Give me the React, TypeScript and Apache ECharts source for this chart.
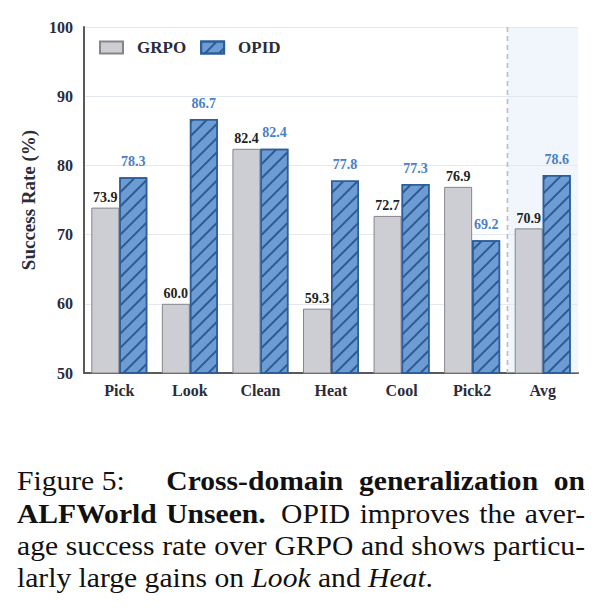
import React, { useEffect, useRef } from "react";
import * as echarts from "echarts";

const categories = ["Pick", "Look", "Clean", "Heat", "Cool", "Pick2", "Avg"];
const grpoValues = [73.9, 60.0, 82.4, 59.3, 72.7, 76.9, 70.9];
const opidValues = [78.3, 86.7, 82.4, 77.8, 77.3, 69.2, 78.6];
const seriesNames = ["GRPO", "OPID"];
const yMin = 50;
const yMax = 100;
const yInterval = 10;
const highlightCategory = "Avg";
const yAxisTitle = "Success Rate (%)";

type Tok = { t: string; s: "n" | "b" | "i"; gap?: number; join?: boolean };
const captionLines: { toks: Tok[]; justify: boolean }[] = [
  {
    justify: true,
    toks: [
      { t: "Figure 5:", s: "n" },
      { t: "Cross-domain", s: "b", gap: 26 },
      { t: "generalization", s: "b" },
      { t: "on", s: "b" },
    ],
  },
  {
    justify: true,
    toks: [
      { t: "ALFWorld", s: "b" },
      { t: "Unseen.", s: "b" },
      { t: "OPID", s: "n", gap: 6 },
      { t: "improves", s: "n" },
      { t: "the", s: "n" },
      { t: "aver-", s: "n" },
    ],
  },
  {
    justify: true,
    toks: [
      { t: "age", s: "n" },
      { t: "success", s: "n" },
      { t: "rate", s: "n" },
      { t: "over", s: "n" },
      { t: "GRPO", s: "n" },
      { t: "and", s: "n" },
      { t: "shows", s: "n" },
      { t: "particu-", s: "n" },
    ],
  },
  {
    justify: false,
    toks: [
      { t: "larly", s: "n" },
      { t: "large", s: "n" },
      { t: "gains", s: "n" },
      { t: "on", s: "n" },
      { t: "Look", s: "i" },
      { t: "and", s: "n" },
      { t: "Heat", s: "i" },
      { t: ".", s: "n", join: true },
    ],
  },
];

const SERIF = '"Liberation Serif", "Times New Roman", serif';
const CAP_SIZE = 28;
const CAP_LEFT = 17;
const CAP_RIGHT = 585;
const CAP_LAST_RIGHT = 433;
const CAP_BASELINES = [490, 523, 555, 587];

function fontOf(s: string) {
  const weight = s === "b" ? "bold" : "normal";
  const style = s === "i" ? "italic" : "normal";
  return { weight, style, css: `${style} ${weight} ${CAP_SIZE}px "Liberation Serif"` };
}

function buildCaption(): any[] {
  const canvas = document.createElement("canvas");
  const ctx = canvas.getContext("2d")!;
  const measure = (t: string, s: string) => {
    ctx.font = fontOf(s).css;
    return ctx.measureText(t).width;
  };
  ctx.font = fontOf("n").css;
  const spaceW = ctx.measureText(" ").width;
  const last = captionLines[captionLines.length - 1];
  let nat = 0;
  last.toks.forEach((tk, i) => {
    nat += measure(tk.t, tk.s);
    if (i > 0 && !tk.join) nat += spaceW;
  });
  const sx = (CAP_LAST_RIGHT - CAP_LEFT) / nat;
  const out: any[] = [];
  captionLines.forEach((line, li) => {
    const widths = line.toks.map((tk) => measure(tk.t, tk.s) * sx);
    const gapsIdx = line.toks.map((tk, i) => i > 0 && !tk.join);
    const nGaps = gapsIdx.filter(Boolean).length;
    const extra = line.toks.reduce((a, tk) => a + (tk.gap || 0), 0);
    const sumW = widths.reduce((a, b) => a + b, 0);
    let gapW = spaceW * sx;
    if (line.justify && nGaps > 0) {
      gapW = (CAP_RIGHT - CAP_LEFT - sumW - extra) / nGaps;
    }
    let x = CAP_LEFT;
    const y = CAP_BASELINES[li] - 0.34 * CAP_SIZE;
    line.toks.forEach((tk, i) => {
      if (i > 0) {
        if (!tk.join) x += gapW + (tk.gap || 0);
      }
      const f = fontOf(tk.s);
      out.push({
        type: "text",
        x,
        y,
        scaleX: sx,
        style: {
          text: tk.t,
          fontFamily: SERIF,
          fontSize: CAP_SIZE,
          fontWeight: f.weight,
          fontStyle: f.style,
          fill: "#111111",
          align: "left",
          verticalAlign: "middle",
        },
      });
      x += widths[i];
    });
  });
  return out;
}

export default function App() {
  const ref = useRef<HTMLDivElement>(null);
  useEffect(() => {
    if (!ref.current) return;
    const chart = echarts.init(ref.current, null, { renderer: "svg" });
    const hIdx = categories.indexOf(highlightCategory);
    const axisText = "#2a2c3a";
    const option: any = {
      animation: false,
      backgroundColor: "#ffffff",
      grid: { left: 84, right: 23, top: 27, bottom: 238, containLabel: false },
      legend: {
        data: seriesNames,
        left: 99,
        top: 39,
        padding: 0,
        itemWidth: 23,
        itemHeight: 12,
        itemGap: 14,
        icon: "rect",
        textStyle: {
          fontFamily: SERIF,
          fontWeight: "bold",
          fontSize: 17,
          color: axisText,
          padding: [0, 0, 0, 9],
        },
      },
      xAxis: [
        {
          type: "category",
          data: categories,
          axisLine: { lineStyle: { color: "#5a5a5a", width: 2 } },
          axisTick: { show: false },
          axisLabel: {
            fontFamily: SERIF,
            fontWeight: "bold",
            fontSize: 16,
            color: axisText,
            margin: 9,
          },
        },
        { type: "value", min: 0, max: categories.length, show: false },
      ],
      yAxis: {
        type: "value",
        min: yMin,
        max: yMax,
        interval: yInterval,
        name: yAxisTitle,
        nameLocation: "middle",
        nameGap: 45,
        nameTextStyle: {
          fontFamily: SERIF,
          fontWeight: "bold",
          fontSize: 19,
          color: axisText,
        },
        axisLine: { show: true, lineStyle: { color: "#5a5a5a", width: 2 } },
        axisTick: { show: false },
        axisLabel: {
          fontFamily: SERIF,
          fontWeight: "bold",
          fontSize: 16,
          color: axisText,
          margin: 11,
        },
        splitLine: { lineStyle: { color: "#e4e8f0", width: 1 } },
      },
      series: [
        {
          type: "custom",
          xAxisIndex: 1,
          yAxisIndex: 0,
          z: 1,
          silent: true,
          data: [[hIdx, yMax, yMin]],
          renderItem: (params: any, api: any) => {
            const i = api.value(0);
            const p0 = api.coord([i, api.value(1)]);
            const p1 = api.coord([i + 1, api.value(2)]);
            return {
              type: "group",
              children: [
                {
                  type: "rect",
                  shape: { x: p0[0], y: p0[1], width: p1[0] - p0[0], height: p1[1] - p0[1] },
                  style: { fill: "rgba(222,234,249,0.42)" },
                },
                {
                  type: "line",
                  shape: { x1: p0[0], y1: p0[1], x2: p0[0], y2: p1[1] },
                  style: { stroke: "#bdbdbd", lineWidth: 1.6, lineDash: [5, 4] },
                },
              ],
            };
          },
        },
        {
          name: seriesNames[0],
          type: "bar",
          data: grpoValues,
          barWidth: 28,
          barGap: "0%",
          itemStyle: { color: "#cdced3", borderColor: "#85868c", borderWidth: 1 },
          label: {
            show: true,
            position: "top",
            distance: 3,
            formatter: (p: any) => Number(p.value).toFixed(1),
            fontFamily: SERIF,
            fontWeight: "bold",
            fontSize: 14,
            color: "#222222",
          },
        },
        {
          name: seriesNames[1],
          type: "bar",
          data: opidValues,
          barWidth: 28,
          barGap: "0%",
          itemStyle: {
            color: "#6c9cd3",
            borderColor: "#2d5e9b",
            borderWidth: 1.5,
            decal: {
              symbol: "rect",
              symbolSize: 1,
              dashArrayX: [1, 0],
              dashArrayY: [1.1, 7.4],
              rotation: -Math.PI / 4,
              color: "#2d5b91",
            },
          },
          label: {
            show: true,
            position: "top",
            distance: 9,
            formatter: (p: any) => Number(p.value).toFixed(1),
            fontFamily: SERIF,
            fontWeight: "bold",
            fontSize: 14,
            color: "#4a80c4",
          },
        },
      ],
      graphic: buildCaption(),
    };
    chart.setOption(option);
    return () => chart.dispose();
  }, []);
  return (
    <div
      ref={ref}
      style={{ position: "fixed", left: 0, top: 0, width: 601, height: 611, background: "#fff" }}
    />
  );
}
